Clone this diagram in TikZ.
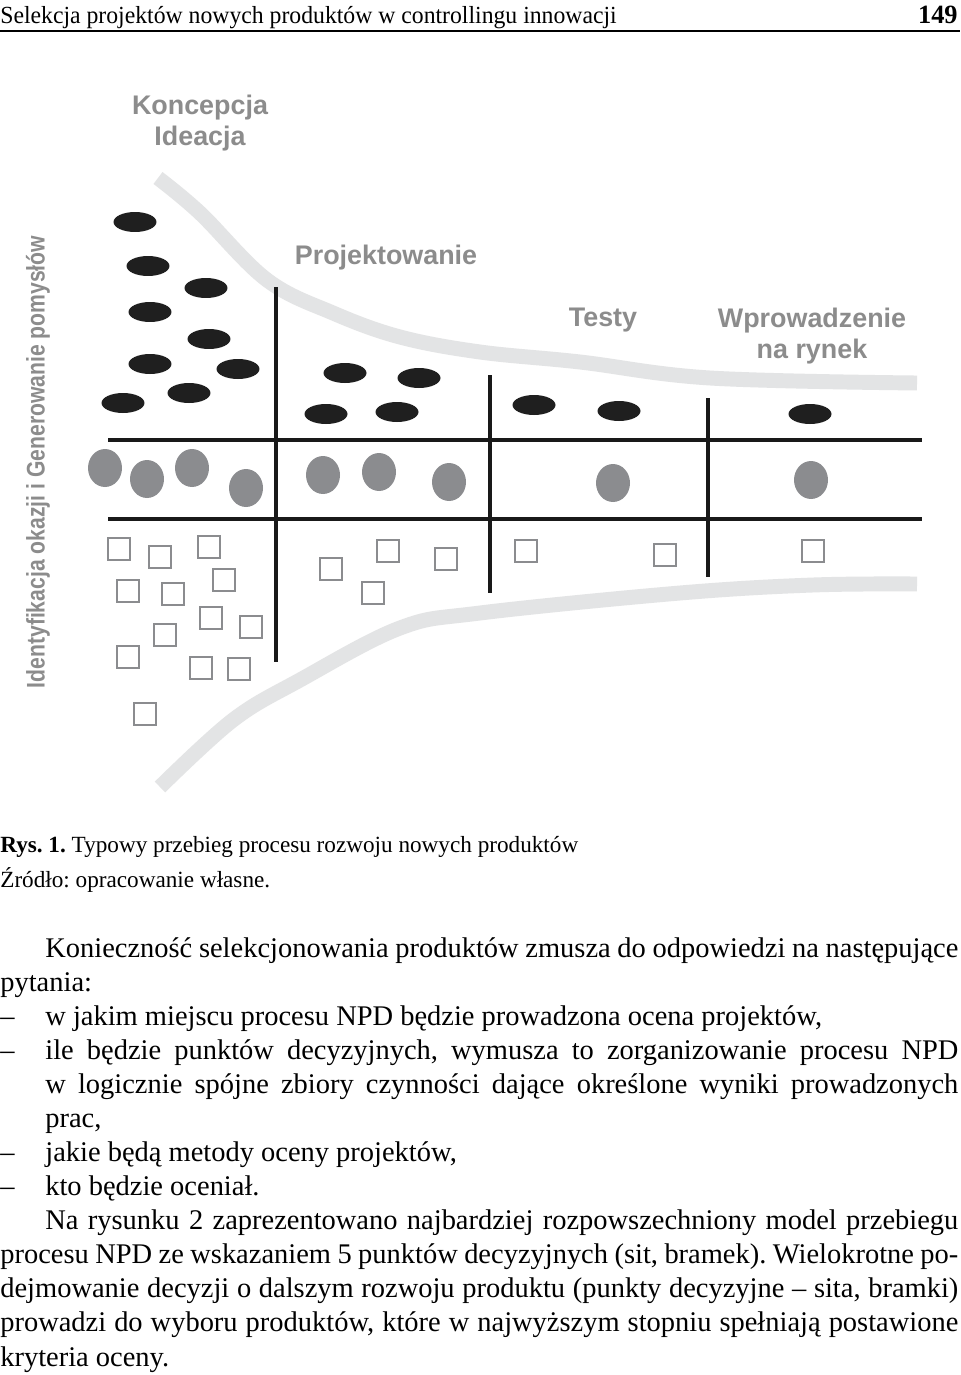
\documentclass[tikz,border=0pt]{standalone}
\usepackage{fontspec}
\setmainfont{Liberation Serif}
\newfontfamily\figfont{Liberation Sans}
\usetikzlibrary{shapes.geometric}
\definecolor{dotgray}{HTML}{8B8C8F}
\definecolor{funnelgray}{HTML}{E3E4E5}
\definecolor{labelgray}{HTML}{8C8C8C}
\newlength\pxu \setlength\pxu{0.02cm}
\newcommand\jline[2]{\makebox[#1\pxu][s]{#2}}
\frenchspacing

\begin{document}
\begin{tikzpicture}[x=0.02cm, y=-0.02cm,
  idea/.style={ellipse, fill=black!88, minimum width=0.86cm, minimum height=0.4cm, inner sep=0pt},
  proto/.style={ellipse, fill=dotgray, minimum width=0.68cm, minimum height=0.76cm, inner sep=0pt},
  item/.style={rectangle, draw=dotgray, line width=1.6pt, minimum size=0.44cm, inner sep=0pt},
  phase/.style={font=\figfont\bfseries\fontsize{15.3}{17.6}\selectfont, text=labelgray, align=center},
  gate/.style={line width=2pt, black!90},
  funnel/.style={line width=8.5pt, funnelgray},
  body/.style={anchor=base west, inner sep=0pt, font=\fontsize{16.2}{19}\selectfont},
  note/.style={anchor=base west, inner sep=0pt, font=\fontsize{13.2}{16}\selectfont}]
  \fill[white] (0,0) rectangle (960,1375);
  \useasboundingbox (0,0) rectangle (960,1375);

  % running head
  \node[anchor=base west, inner sep=0pt, font=\fontsize{14}{16}\selectfont] (head) at (0,24)
    {\scalebox{0.964}[1]{Selekcja projektów nowych produktów w controllingu innowacji}};
  \node[anchor=base east, inner sep=0pt, font=\bfseries\fontsize{15}{17}\selectfont] (page) at (958,24) {149};
  \draw[line width=0.8pt] (0,31) -- (960,31);

  % funnel walls
  \draw[funnel] plot[smooth, tension=0.6] coordinates {(158,178) (200,213) (267,280) (333,313) (400,337) (480,352) (580,362) (710,378) (917,383)};
  \draw[funnel] plot[smooth, tension=0.6] coordinates {(160,787) (233,720) (300,680) (400,628) (480,613) (680,593) (813,585) (917,584)};

  % gates
  \draw[gate] (108,440) -- (922,440);
  \draw[gate] (108,519) -- (922,519);
  \draw[gate] (276,287) -- (276,662);
  \draw[gate] (490,375) -- (490,593);
  \draw[gate] (708,398) -- (708,577);

  % ideas
  \foreach \x/\y [count=\i] in {135/222, 148/266, 206/288, 150/312, 209/339, 150/364, 238/369,
      189/393, 123/403, 345/373, 419/378, 326/414, 397/412, 534/405, 619/411, 810/414}
    \node[idea] (idea\i) at (\x,\y) {};

  % prototypes
  \foreach \x/\y [count=\i] in {105/468, 147/479, 192/468, 246/488, 323/475, 379/472, 449/482, 613/483, 811/480}
    \node[proto] (proto\i) at (\x,\y) {};

  % projects
  \foreach \x/\y [count=\i] in {119/549, 160/557, 209/547, 128/591, 173/594, 224/580, 211/618, 251/627,
      165/635, 128/657, 201/668, 239/669, 145/714, 331/569, 388/551, 373/593, 446/559, 526/551, 665/555, 813/551}
    \node[item] (item\i) at (\x,\y) {};

  % phase labels
  \node[phase] (concept) at (200,123) {Koncepcja\\Ideacja};
  \node[phase] (design) at (386,258) {Projektowanie};
  \node[phase] (tests) at (603,320) {Testy};
  \node[phase] (launch) at (812,336) {Wprowadzenie\\na rynek};
  \node[font=\figfont\bfseries\fontsize{14.5}{16}\selectfont, text=labelgray, rotate=90] (ident) at (38,462)
    {\scalebox{0.83}[1]{Identyfikacja okazji i Generowanie pomysłów}};

  % caption
  \node[note] (caption) at (0,852) {\textbf{Rys. 1.} Typowy przebieg procesu rozwoju nowych produktów};
  \node[note] (source) at (0,887) {Źródło: opracowanie własne.};

  % text below the figure
  \node[body] (l1) at (45,957) {\jline{913}{Konieczność selekcjonowania produktów zmusza do odpowiedzi na następujące}};
  \node[body] (l2) at (0,991) {pytania:};
  \node[body] (d1) at (0,1025) {–};
  \node[body] (l3) at (45,1025) {w jakim miejscu procesu NPD będzie prowadzona ocena projektów,};
  \node[body] (d2) at (0,1059) {–};
  \node[body] (l4) at (45,1059) {\jline{913}{ile będzie punktów decyzyjnych, wymusza to zorganizowanie procesu NPD}};
  \node[body] (l5) at (45,1093) {\jline{913}{w logicznie spójne zbiory czynności dające określone wyniki prowadzonych}};
  \node[body] (l6) at (45,1127) {prac,};
  \node[body] (d3) at (0,1161) {–};
  \node[body] (l7) at (45,1161) {jakie będą metody oceny projektów,};
  \node[body] (d4) at (0,1195) {–};
  \node[body] (l8) at (45,1195) {kto będzie oceniał.};
  \node[body] (l9) at (45,1229) {\jline{913}{Na rysunku 2 zaprezentowano najbardziej rozpowszechniony model przebiegu}};
  \node[body] (l10) at (0,1263) {\jline{958}{procesu NPD ze wskazaniem 5 punktów decyzyjnych (sit, bramek). Wielokrotne po-}};
  \node[body] (l11) at (0,1297) {\jline{958}{dejmowanie decyzji o dalszym rozwoju produktu (punkty decyzyjne – sita, bramki)}};
  \node[body] (l12) at (0,1331) {\jline{958}{prowadzi do wyboru produktów, które w najwyższym stopniu spełniają postawione}};
  \node[body] (l13) at (0,1366) {kryteria oceny.};
\end{tikzpicture}
\end{document}
